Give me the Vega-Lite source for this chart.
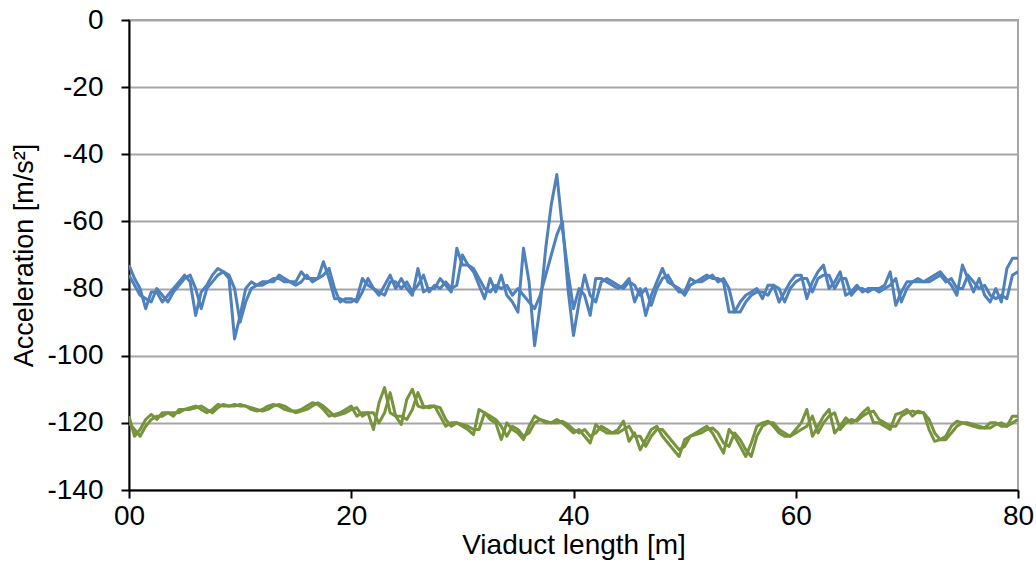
{
  "$schema": "https://vega.github.io/schema/vega-lite/v6.json",
  "width": 889,
  "height": 470,
  "autosize": {"type": "none"},
  "padding": {"left": 129, "top": 20, "right": 18, "bottom": 73},
  "background": "white",
  "config": {
    "view": {"stroke": "#a6a6a6", "strokeWidth": 2},
    "font": "Liberation Sans"
  },
  "data": {"values": [
{"x":0,"b1":-73,"b2":-76,"g1":-118,"g2":-120},
{"x":0.5,"b1":-77,"b2":-79,"g1":-124,"g2":-122},
{"x":1,"b1":-80,"b2":-82,"g1":-122,"g2":-124},
{"x":1.5,"b1":-86,"b2":-83,"g1":-119,"g2":-121},
{"x":2,"b1":-81,"b2":-84,"g1":-117.5,"g2":-119},
{"x":2.5,"b1":-81,"b2":-80,"g1":-119,"g2":-118},
{"x":3,"b1":-84,"b2":-82,"g1":-117,"g2":-118},
{"x":3.5,"b1":-82,"b2":-84,"g1":-117,"g2":-117},
{"x":4,"b1":-80,"b2":-81,"g1":-118,"g2":-117},
{"x":4.5,"b1":-78,"b2":-79,"g1":-116,"g2":-117},
{"x":5,"b1":-76,"b2":-77,"g1":-116,"g2":-116},
{"x":5.5,"b1":-78,"b2":-76,"g1":-115.5,"g2":-116},
{"x":6,"b1":-88,"b2":-80,"g1":-115,"g2":-115.5},
{"x":6.5,"b1":-81,"b2":-86,"g1":-116,"g2":-115},
{"x":7,"b1":-79,"b2":-80,"g1":-117,"g2":-116},
{"x":7.5,"b1":-76,"b2":-78,"g1":-116,"g2":-117},
{"x":8,"b1":-74,"b2":-76,"g1":-114.5,"g2":-115.5},
{"x":8.5,"b1":-75,"b2":-75,"g1":-115,"g2":-114.5},
{"x":9,"b1":-77,"b2":-76,"g1":-115,"g2":-115},
{"x":9.5,"b1":-95,"b2":-80,"g1":-114.5,"g2":-115},
{"x":10,"b1":-88,"b2":-90,"g1":-115,"g2":-114.5},
{"x":10.5,"b1":-80,"b2":-84,"g1":-115,"g2":-115},
{"x":11,"b1":-78,"b2":-80,"g1":-116,"g2":-115.5},
{"x":11.5,"b1":-79,"b2":-79,"g1":-116.5,"g2":-116},
{"x":12,"b1":-79,"b2":-78,"g1":-116,"g2":-116.5},
{"x":12.5,"b1":-78,"b2":-78,"g1":-115,"g2":-116},
{"x":13,"b1":-77,"b2":-78,"g1":-114.5,"g2":-115},
{"x":13.5,"b1":-77,"b2":-76,"g1":-115,"g2":-114.5},
{"x":14,"b1":-78,"b2":-77,"g1":-116,"g2":-115},
{"x":14.5,"b1":-78,"b2":-78,"g1":-116.5,"g2":-116},
{"x":15,"b1":-78,"b2":-79,"g1":-116.5,"g2":-117},
{"x":15.5,"b1":-75,"b2":-78,"g1":-116,"g2":-116.5},
{"x":16,"b1":-77,"b2":-76,"g1":-115,"g2":-116},
{"x":16.5,"b1":-77,"b2":-78,"g1":-114,"g2":-115},
{"x":17,"b1":-77,"b2":-77,"g1":-114.5,"g2":-114},
{"x":17.5,"b1":-72,"b2":-76,"g1":-116,"g2":-115},
{"x":18,"b1":-77,"b2":-74,"g1":-118,"g2":-116.5},
{"x":18.5,"b1":-83,"b2":-80,"g1":-117.5,"g2":-118},
{"x":19,"b1":-83,"b2":-84,"g1":-117,"g2":-117.5},
{"x":19.5,"b1":-84,"b2":-83,"g1":-116,"g2":-117},
{"x":20,"b1":-84,"b2":-83,"g1":-115,"g2":-116},
{"x":20.5,"b1":-83,"b2":-84,"g1":-118,"g2":-115.5},
{"x":21,"b1":-77,"b2":-81,"g1":-117,"g2":-118},
{"x":21.5,"b1":-79,"b2":-77,"g1":-117,"g2":-117},
{"x":22,"b1":-80,"b2":-80,"g1":-122,"g2":-117},
{"x":22.5,"b1":-82,"b2":-81,"g1":-114,"g2":-120},
{"x":23,"b1":-79,"b2":-82,"g1":-109.5,"g2":-117},
{"x":23.5,"b1":-76,"b2":-78,"g1":-117,"g2":-111},
{"x":24,"b1":-80,"b2":-78,"g1":-118,"g2":-118},
{"x":24.5,"b1":-77,"b2":-80,"g1":-120.5,"g2":-118},
{"x":25,"b1":-80,"b2":-78,"g1":-113,"g2":-119},
{"x":25.5,"b1":-82,"b2":-81,"g1":-110,"g2":-116},
{"x":26,"b1":-74,"b2":-79,"g1":-115,"g2":-111},
{"x":26.5,"b1":-81,"b2":-76,"g1":-115.5,"g2":-115},
{"x":27,"b1":-80,"b2":-81,"g1":-115,"g2":-115.5},
{"x":27.5,"b1":-80,"b2":-79,"g1":-115,"g2":-115},
{"x":28,"b1":-77,"b2":-80,"g1":-118,"g2":-115.5},
{"x":28.5,"b1":-79,"b2":-78,"g1":-121,"g2":-119},
{"x":29,"b1":-81,"b2":-80,"g1":-120,"g2":-121},
{"x":29.5,"b1":-68,"b2":-79,"g1":-120,"g2":-120},
{"x":30,"b1":-73,"b2":-70,"g1":-121,"g2":-120.5},
{"x":30.5,"b1":-73,"b2":-73,"g1":-122,"g2":-121},
{"x":31,"b1":-75,"b2":-74,"g1":-123.5,"g2":-122},
{"x":31.5,"b1":-79,"b2":-77,"g1":-116,"g2":-122},
{"x":32,"b1":-83,"b2":-80,"g1":-117,"g2":-117},
{"x":32.5,"b1":-77,"b2":-81,"g1":-119,"g2":-118},
{"x":33,"b1":-81,"b2":-79,"g1":-120,"g2":-119},
{"x":33.5,"b1":-76,"b2":-80,"g1":-125,"g2":-121},
{"x":34,"b1":-82,"b2":-79,"g1":-120,"g2":-124},
{"x":34.5,"b1":-84,"b2":-82,"g1":-122,"g2":-121},
{"x":35,"b1":-87,"b2":-80,"g1":-123,"g2":-122},
{"x":35.5,"b1":-68,"b2":-82,"g1":-125,"g2":-124},
{"x":36,"b1":-78,"b2":-84,"g1":-121,"g2":-123},
{"x":36.5,"b1":-97,"b2":-86,"g1":-118,"g2":-120},
{"x":37,"b1":-85,"b2":-82,"g1":-119,"g2":-119},
{"x":37.5,"b1":-68,"b2":-76,"g1":-120,"g2":-119.5},
{"x":38,"b1":-55,"b2":-70,"g1":-120,"g2":-120},
{"x":38.5,"b1":-46,"b2":-64,"g1":-119,"g2":-120},
{"x":39,"b1":-62,"b2":-60,"g1":-120,"g2":-119.5},
{"x":39.5,"b1":-75,"b2":-80,"g1":-121.5,"g2":-120.5},
{"x":40,"b1":-86,"b2":-94,"g1":-123,"g2":-122},
{"x":40.5,"b1":-80,"b2":-84,"g1":-122,"g2":-123},
{"x":41,"b1":-82,"b2":-76,"g1":-124,"g2":-122},
{"x":41.5,"b1":-88,"b2":-82,"g1":-126,"g2":-124},
{"x":42,"b1":-77,"b2":-84,"g1":-120.5,"g2":-123},
{"x":42.5,"b1":-77,"b2":-78,"g1":-122,"g2":-121},
{"x":43,"b1":-78,"b2":-77,"g1":-123,"g2":-122},
{"x":43.5,"b1":-79,"b2":-78,"g1":-123,"g2":-123},
{"x":44,"b1":-80,"b2":-79,"g1":-122,"g2":-123},
{"x":44.5,"b1":-79,"b2":-80,"g1":-119.5,"g2":-122},
{"x":45,"b1":-77,"b2":-78,"g1":-125.5,"g2":-121},
{"x":45.5,"b1":-84,"b2":-79,"g1":-123,"g2":-124},
{"x":46,"b1":-80,"b2":-82,"g1":-128,"g2":-124},
{"x":46.5,"b1":-88,"b2":-80,"g1":-125,"g2":-127},
{"x":47,"b1":-82,"b2":-85,"g1":-122,"g2":-124},
{"x":47.5,"b1":-78,"b2":-80,"g1":-121,"g2":-122},
{"x":48,"b1":-74,"b2":-77,"g1":-124,"g2":-122},
{"x":48.5,"b1":-78,"b2":-76,"g1":-126,"g2":-124},
{"x":49,"b1":-79,"b2":-79,"g1":-128,"g2":-126},
{"x":49.5,"b1":-81,"b2":-80,"g1":-130,"g2":-128},
{"x":50,"b1":-81,"b2":-82,"g1":-125,"g2":-127},
{"x":50.5,"b1":-77,"b2":-79,"g1":-124,"g2":-124},
{"x":51,"b1":-78,"b2":-78,"g1":-123,"g2":-123.5},
{"x":51.5,"b1":-77,"b2":-78,"g1":-122,"g2":-123},
{"x":52,"b1":-76,"b2":-77,"g1":-121,"g2":-122},
{"x":52.5,"b1":-77,"b2":-76,"g1":-123,"g2":-121.5},
{"x":53,"b1":-77,"b2":-78,"g1":-126,"g2":-123},
{"x":53.5,"b1":-78,"b2":-77,"g1":-129,"g2":-126},
{"x":54,"b1":-87,"b2":-80,"g1":-122,"g2":-127},
{"x":54.5,"b1":-87,"b2":-87,"g1":-124,"g2":-123},
{"x":55,"b1":-84,"b2":-87,"g1":-127,"g2":-125},
{"x":55.5,"b1":-82,"b2":-84,"g1":-130,"g2":-128},
{"x":56,"b1":-81,"b2":-82,"g1":-126,"g2":-130},
{"x":56.5,"b1":-80,"b2":-81,"g1":-121,"g2":-124},
{"x":57,"b1":-83,"b2":-81,"g1":-120,"g2":-121},
{"x":57.5,"b1":-79,"b2":-82,"g1":-119.5,"g2":-120},
{"x":58,"b1":-79,"b2":-79,"g1":-121,"g2":-120},
{"x":58.5,"b1":-84,"b2":-80,"g1":-123,"g2":-122},
{"x":59,"b1":-81,"b2":-84,"g1":-124,"g2":-123},
{"x":59.5,"b1":-78,"b2":-80,"g1":-124,"g2":-124},
{"x":60,"b1":-76,"b2":-78,"g1":-122,"g2":-123},
{"x":60.5,"b1":-76,"b2":-77,"g1":-120,"g2":-122},
{"x":61,"b1":-83,"b2":-77,"g1":-116,"g2":-121},
{"x":61.5,"b1":-78,"b2":-81,"g1":-124,"g2":-118},
{"x":62,"b1":-75,"b2":-77,"g1":-121,"g2":-123},
{"x":62.5,"b1":-73,"b2":-76,"g1":-118,"g2":-120},
{"x":63,"b1":-80,"b2":-76,"g1":-116,"g2":-118},
{"x":63.5,"b1":-78,"b2":-80,"g1":-123,"g2":-117},
{"x":64,"b1":-75,"b2":-77,"g1":-121,"g2":-122},
{"x":64.5,"b1":-82,"b2":-77,"g1":-118.5,"g2":-120},
{"x":65,"b1":-81,"b2":-82,"g1":-120,"g2":-119},
{"x":65.5,"b1":-79,"b2":-80,"g1":-119,"g2":-119.5},
{"x":66,"b1":-81,"b2":-80,"g1":-117,"g2":-118},
{"x":66.5,"b1":-80,"b2":-81,"g1":-115.5,"g2":-117},
{"x":67,"b1":-80,"b2":-80,"g1":-120,"g2":-116.5},
{"x":67.5,"b1":-80,"b2":-81,"g1":-120,"g2":-119},
{"x":68,"b1":-79,"b2":-80,"g1":-121,"g2":-120},
{"x":68.5,"b1":-75,"b2":-79,"g1":-122,"g2":-121},
{"x":69,"b1":-85,"b2":-77,"g1":-117.5,"g2":-121},
{"x":69.5,"b1":-81,"b2":-84,"g1":-117,"g2":-118},
{"x":70,"b1":-78,"b2":-80,"g1":-116,"g2":-117},
{"x":70.5,"b1":-78,"b2":-78,"g1":-118,"g2":-116.5},
{"x":71,"b1":-78,"b2":-77,"g1":-116.5,"g2":-117},
{"x":71.5,"b1":-78,"b2":-78,"g1":-117,"g2":-117},
{"x":72,"b1":-77,"b2":-78,"g1":-122,"g2":-119},
{"x":72.5,"b1":-76,"b2":-77,"g1":-125.5,"g2":-123},
{"x":73,"b1":-75,"b2":-76,"g1":-125,"g2":-125},
{"x":73.5,"b1":-77,"b2":-78,"g1":-124,"g2":-125},
{"x":74,"b1":-79,"b2":-77,"g1":-121,"g2":-123},
{"x":74.5,"b1":-82,"b2":-80,"g1":-119.5,"g2":-121},
{"x":75,"b1":-73,"b2":-80,"g1":-120,"g2":-120},
{"x":75.5,"b1":-77,"b2":-76,"g1":-120.5,"g2":-120},
{"x":76,"b1":-81,"b2":-78,"g1":-121,"g2":-120.5},
{"x":76.5,"b1":-77,"b2":-80,"g1":-121.5,"g2":-121},
{"x":77,"b1":-82,"b2":-79,"g1":-121.5,"g2":-121.5},
{"x":77.5,"b1":-84,"b2":-82,"g1":-120,"g2":-121.5},
{"x":78,"b1":-80,"b2":-83,"g1":-120,"g2":-120.5},
{"x":78.5,"b1":-84,"b2":-82,"g1":-121,"g2":-120},
{"x":79,"b1":-74,"b2":-83,"g1":-121,"g2":-121},
{"x":79.5,"b1":-71,"b2":-76,"g1":-118,"g2":-120},
{"x":80,"b1":-71,"b2":-75,"g1":-118,"g2":-119}
  ]},
  "transform": [{"fold": ["b1", "b2", "g1", "g2"], "as": ["series", "value"]}],
  "mark": {"type": "line", "strokeWidth": 3, "strokeJoin": "round", "clip": true},
  "encoding": {
    "x": {
      "field": "x", "type": "quantitative",
      "scale": {"domain": [0, 80], "nice": false, "zero": false},
      "axis": {
        "values": [0, 20, 40, 60, 80],
        "labelExpr": "datum.value == 0 ? '00' : datum.label",
        "title": "Viaduct length [m]",
        "titleFont": "Liberation Sans Narrow, Liberation Sans", "titleFontSize": 28, "titleFontWeight": "normal", "titleColor": "#000000",
        "titlePadding": 1,
        "labelFont": "Liberation Sans Narrow, Liberation Sans", "labelFontSize": 28, "labelColor": "#000000", "labelPadding": 4,
        "labelFlush": false, "labelOverlap": false,
        "domainColor": "#000000", "domainWidth": 2,
        "tickColor": "#000000", "tickWidth": 2, "tickSize": 8,
        "grid": false
      }
    },
    "y": {
      "field": "value", "type": "quantitative",
      "scale": {"domain": [-140, 0], "nice": false, "zero": false},
      "axis": {
        "values": [0, -20, -40, -60, -80, -100, -120, -140],
        "labelExpr": "'' + datum.value",
        "title": "Acceleration [m/s²]",
        "titleFont": "Liberation Sans", "titleFontSize": 27, "titleFontWeight": "normal", "titleColor": "#000000",
        "titlePadding": 8,
        "labelFont": "Liberation Sans Narrow, Liberation Sans", "labelFontSize": 28, "labelColor": "#000000", "labelPadding": 18,
        "labelFlush": false, "labelOverlap": false,
        "domainColor": "#000000", "domainWidth": 2,
        "tickColor": "#000000", "tickWidth": 2, "tickSize": 8,
        "grid": true, "gridColor": "#a6a6a6", "gridWidth": 2
      }
    },
    "color": {
      "field": "series", "type": "nominal",
      "scale": {"domain": ["b1", "b2", "g1", "g2"], "range": ["#4F81BD", "#4F81BD", "#77933C", "#77933C"]},
      "legend": null
    }
  }
}
